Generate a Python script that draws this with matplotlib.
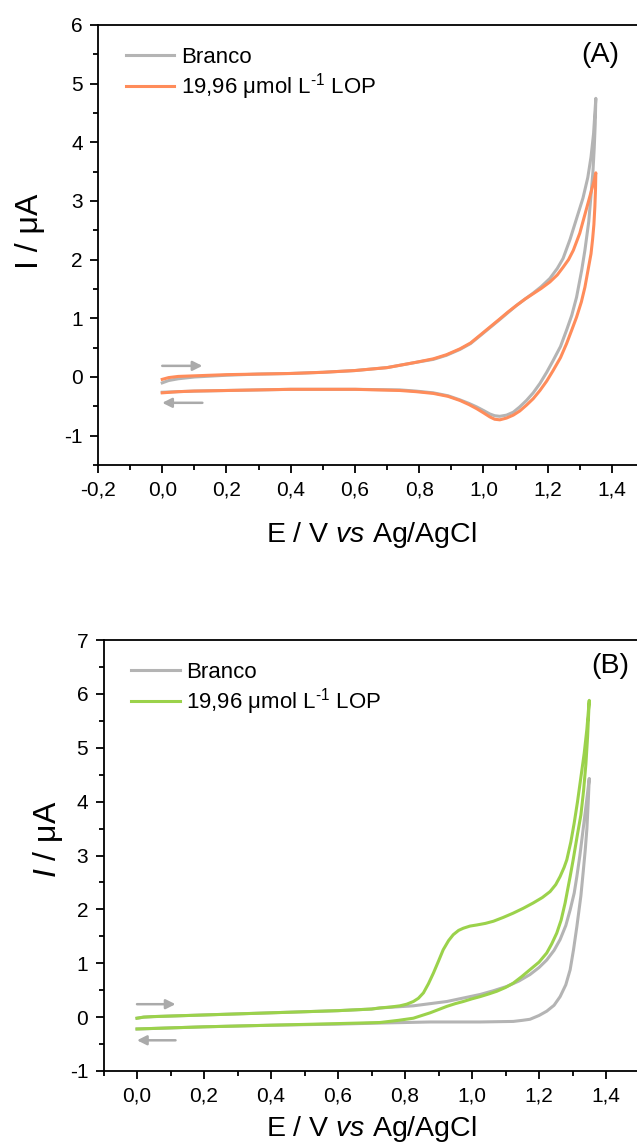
import matplotlib
matplotlib.use("Agg")
import matplotlib.pyplot as plt
from matplotlib.ticker import MultipleLocator, FuncFormatter

plt.rcParams['font.family'] = ['Liberation Sans', 'DejaVu Sans']
plt.rcParams['mathtext.fontset'] = 'custom'
plt.rcParams['mathtext.rm'] = 'Liberation Sans'
plt.rcParams['mathtext.it'] = 'Liberation Sans:italic'
plt.rcParams['mathtext.bf'] = 'Liberation Sans:bold'
plt.rcParams['axes.unicode_minus'] = False

# ---------------- Panel A data ----------------
E_A_blank = [0.00, 0.02, 0.05, 0.10, 0.20, 0.30, 0.40, 0.50, 0.60, 0.70, 0.74, 0.79, 0.844, 0.885,
             0.927, 0.96, 0.989, 1.02, 1.051, 1.077, 1.103, 1.13, 1.155, 1.18, 1.207, 1.23, 1.248,
             1.27, 1.29, 1.31, 1.325, 1.335, 1.343, 1.35,
             1.348, 1.345, 1.341, 1.335, 1.328, 1.316, 1.306, 1.29, 1.275, 1.259, 1.24, 1.217,
             1.197, 1.176, 1.155, 1.134, 1.113, 1.093, 1.072, 1.051, 1.035, 1.02, 1.0, 0.979,
             0.955, 0.927, 0.89, 0.844, 0.79, 0.74, 0.60, 0.40, 0.20, 0.10, 0.05, 0.00]
I_A_blank = [-0.10, -0.06, -0.03, 0.00, 0.03, 0.05, 0.06, 0.08, 0.11, 0.16, 0.20, 0.25, 0.30, 0.37,
             0.47, 0.57, 0.70, 0.84, 0.98, 1.10, 1.22, 1.33, 1.43, 1.54, 1.68, 1.85, 2.02,
             2.35, 2.70, 3.05, 3.40, 3.75, 4.15, 4.75,
             4.30, 3.90, 3.50, 3.10, 2.65, 2.16, 1.82, 1.36, 1.05, 0.80, 0.52, 0.28,
             0.08, -0.11, -0.27, -0.40, -0.51, -0.60, -0.65, -0.67, -0.66, -0.63, -0.57, -0.51,
             -0.45, -0.39, -0.32, -0.27, -0.24, -0.22, -0.21, -0.21, -0.23, -0.24, -0.25, -0.26]

E_A_lop = [0.00, 0.02, 0.05, 0.10, 0.20, 0.30, 0.40, 0.50, 0.60, 0.70, 0.74, 0.79, 0.844, 0.885,
           0.927, 0.96, 0.989, 1.02, 1.051, 1.077, 1.103, 1.13, 1.155, 1.18, 1.207, 1.23, 1.248,
           1.265, 1.28, 1.30, 1.32, 1.335, 1.345, 1.35,
           1.349, 1.347, 1.344, 1.34, 1.335, 1.325, 1.316, 1.305, 1.29, 1.275, 1.259, 1.24, 1.217,
           1.197, 1.176, 1.155, 1.134, 1.113, 1.093, 1.072, 1.051, 1.035, 1.02, 1.0, 0.979,
           0.955, 0.927, 0.89, 0.844, 0.79, 0.74, 0.60, 0.40, 0.20, 0.10, 0.05, 0.00]
I_A_lop = [-0.04, -0.01, 0.01, 0.02, 0.04, 0.05, 0.06, 0.08, 0.11, 0.16, 0.20, 0.25, 0.31, 0.38,
           0.48, 0.58, 0.71, 0.85, 0.99, 1.11, 1.22, 1.33, 1.42, 1.51, 1.62, 1.74, 1.87,
           2.00, 2.16, 2.45, 2.85, 3.15, 3.35, 3.48,
           3.20, 2.90, 2.60, 2.35, 2.10, 1.80, 1.53, 1.28, 1.02, 0.80, 0.57, 0.33, 0.11,
           -0.07, -0.23, -0.37, -0.48, -0.58, -0.65, -0.70, -0.73, -0.72, -0.68, -0.61, -0.54,
           -0.47, -0.40, -0.33, -0.28, -0.25, -0.23, -0.21, -0.21, -0.23, -0.24, -0.25, -0.27]

# ---------------- Panel B data ----------------
E_B_blank = [0.00, 0.02, 0.05, 0.10, 0.20, 0.30, 0.40, 0.50, 0.60, 0.70, 0.725, 0.825, 0.925, 1.024,
             1.064, 1.104, 1.14, 1.173, 1.20, 1.223, 1.245, 1.263, 1.28, 1.293, 1.305, 1.313,
             1.322, 1.33, 1.34, 1.35,
             1.347, 1.343, 1.338, 1.332, 1.325, 1.313, 1.303, 1.293, 1.28, 1.263, 1.245, 1.223,
             1.20, 1.173, 1.15, 1.123, 1.024, 0.875, 0.725, 0.60, 0.40, 0.20, 0.10, 0.00]
I_B_blank = [-0.02, 0.00, 0.01, 0.02, 0.04, 0.06, 0.08, 0.10, 0.12, 0.15, 0.17, 0.21, 0.29, 0.42,
             0.49, 0.57, 0.67, 0.79, 0.92, 1.06, 1.24, 1.44, 1.70, 1.99, 2.30, 2.61,
             3.00, 3.40, 3.90, 4.43,
             4.00, 3.50, 3.10, 2.70, 2.25, 1.68, 1.25, 0.88, 0.60, 0.38, 0.22, 0.11,
             0.03, -0.04, -0.06, -0.08, -0.09, -0.09, -0.11, -0.13, -0.15, -0.18, -0.20, -0.22]

E_B_lop = [0.00, 0.02, 0.05, 0.10, 0.20, 0.30, 0.40, 0.50, 0.60, 0.70, 0.725, 0.76, 0.785, 0.805,
           0.825, 0.84, 0.855, 0.87, 0.885, 0.90, 0.914, 0.93, 0.944, 0.96, 0.974, 0.994, 1.014,
           1.04, 1.064, 1.093, 1.123, 1.153, 1.183, 1.21, 1.233, 1.25, 1.263, 1.275, 1.283,
           1.295, 1.305, 1.315, 1.325, 1.335, 1.343, 1.35,
           1.345, 1.34, 1.333, 1.325, 1.315, 1.302, 1.293, 1.285, 1.278, 1.266, 1.253, 1.238,
           1.223, 1.20, 1.173, 1.148, 1.123, 1.10, 1.074, 1.05, 1.024, 1.00, 0.974, 0.95, 0.925,
           0.90, 0.875, 0.85, 0.825, 0.78, 0.725, 0.60, 0.40, 0.20, 0.10, 0.00]
I_B_lop = [-0.02, 0.00, 0.01, 0.02, 0.04, 0.06, 0.08, 0.10, 0.12, 0.15, 0.17, 0.19, 0.21, 0.24,
           0.29, 0.35, 0.45, 0.62, 0.82, 1.04, 1.25, 1.42, 1.53, 1.61, 1.65, 1.69, 1.71,
           1.74, 1.78, 1.85, 1.93, 2.02, 2.12, 2.22, 2.33, 2.46, 2.61, 2.78, 2.92,
           3.25, 3.60, 4.00, 4.45, 4.90, 5.35, 5.88,
           5.20, 4.70, 4.20, 3.75, 3.40, 2.92, 2.61, 2.35, 2.12, 1.80, 1.56, 1.36,
           1.19, 1.02, 0.88, 0.75, 0.63, 0.55, 0.48, 0.43, 0.38, 0.34, 0.29, 0.25, 0.20,
           0.14, 0.08, 0.03, -0.02, -0.06, -0.10, -0.12, -0.15, -0.18, -0.20, -0.22]

# scan-direction arrows (x start, x end, y)
arrows_A = [(0.0, 0.125, 0.19), (0.125, 0.0, -0.44)]
arrows_B = [(0.0, 0.115, 0.24), (0.115, 0.0, -0.43)]

legend_labels = ['Branco', '19,96 μmol L$^{\\text{-1}}$ LOP']

GRAY = '#b4b4b4'
ORANGE = '#ff8c5a'
GREEN = '#9bd24b'
ARROW = '#aaaaaa'

W, H = 637, 1144
fig = plt.figure(figsize=(W / 100, H / 100), dpi=100)

def fx(px):
    return px / W

def fy(py):
    return 1 - py / H

axA = fig.add_axes([fx(98), fy(465), fx(644) - fx(98), fy(25) - fy(465)])
axB = fig.add_axes([fx(103.5), fy(1071), fx(639.5) - fx(103.5), fy(640) - fy(1071)])

comma = FuncFormatter(lambda v, p: ('%.1f' % v).replace('.', ','))
intfmt = FuncFormatter(lambda v, p: '%d' % round(v))

for ax in (axA, axB):
    for s in ('left', 'bottom', 'top', 'right'):
        ax.spines[s].set_linewidth(1.3)
    ax.xaxis.set_major_locator(MultipleLocator(0.2))
    ax.xaxis.set_minor_locator(MultipleLocator(0.1))
    ax.yaxis.set_major_locator(MultipleLocator(1))
    ax.yaxis.set_minor_locator(MultipleLocator(0.5))
    ax.xaxis.set_major_formatter(comma)
    ax.yaxis.set_major_formatter(intfmt)
    ax.tick_params(which='major', direction='out', length=6, width=1.3, labelsize=15, pad=5)
    ax.tick_params(which='minor', direction='out', length=3.5, width=1.3)
    ax.tick_params(top=False, right=False, which='both')

# Panel A
axA.plot(E_A_blank, I_A_blank, color=GRAY, lw=2.2, label=legend_labels[0], solid_joinstyle='round')
axA.plot(E_A_lop, I_A_lop, color=ORANGE, lw=2.2, label=legend_labels[1], solid_joinstyle='round')
axA.set_xlim(-0.2, 1.5)
axA.set_ylim(-1.5, 6)
axA.set_yticks([-1, 0, 1, 2, 3, 4, 5, 6])
axA.set_xticks([-0.2, 0.0, 0.2, 0.4, 0.6, 0.8, 1.0, 1.2, 1.4])

# Panel B
axB.plot(E_B_blank, I_B_blank, color=GRAY, lw=2.2, label=legend_labels[0], solid_joinstyle='round')
axB.plot(E_B_lop, I_B_lop, color=GREEN, lw=2.2, label=legend_labels[1], solid_joinstyle='round')
axB.set_xlim(-0.1, 1.5)
axB.set_ylim(-1, 7)
axB.set_xticks([0.0, 0.2, 0.4, 0.6, 0.8, 1.0, 1.2, 1.4])

for ax, arrs in ((axA, arrows_A), (axB, arrows_B)):
    for x0, x1, y in arrs:
        ax.annotate('', xy=(x1, y), xytext=(x0, y),
                    arrowprops=dict(arrowstyle='-|>', color=ARROW, lw=1.8,
                                    mutation_scale=14, shrinkA=0, shrinkB=0))

for ax in (axA, axB):
    ax.legend(loc='upper left', bbox_to_anchor=(0.022, 0.985), frameon=False,
              fontsize=16, handlelength=2.2, handletextpad=0.3,
              labelspacing=0.15, borderpad=0.2)

axA.text(0.919, 0.932, '(A)', transform=axA.transAxes, fontsize=20.5, ha='center', va='center')
axB.text(0.945, 0.94, '(B)', transform=axB.transAxes, fontsize=20.5, ha='center', va='center')

axA.set_ylabel('I / μA', fontsize=23)
axA.yaxis.set_label_coords(-(98 - 45) / 546, 0.53)
axB.set_ylabel('$\\mathit{I}$ / μA', fontsize=23)
axB.yaxis.set_label_coords(-(103.5 - 65) / 536, 0.537)

axA.set_xlabel('E / V $\\mathit{vs}$ Ag/AgCl', fontsize=20.5)
axA.xaxis.set_label_coords((371 - 98) / 546, -(535 - 465) / 440)
axA.xaxis.label.set_va('center')
axB.set_xlabel('E / V $\\mathit{vs}$ Ag/AgCl', fontsize=20.5)
axB.xaxis.set_label_coords((371 - 103.5) / 536, -(1129 - 1071) / 431)
axB.xaxis.label.set_va('center')

fig.savefig('out.png', dpi=100)
